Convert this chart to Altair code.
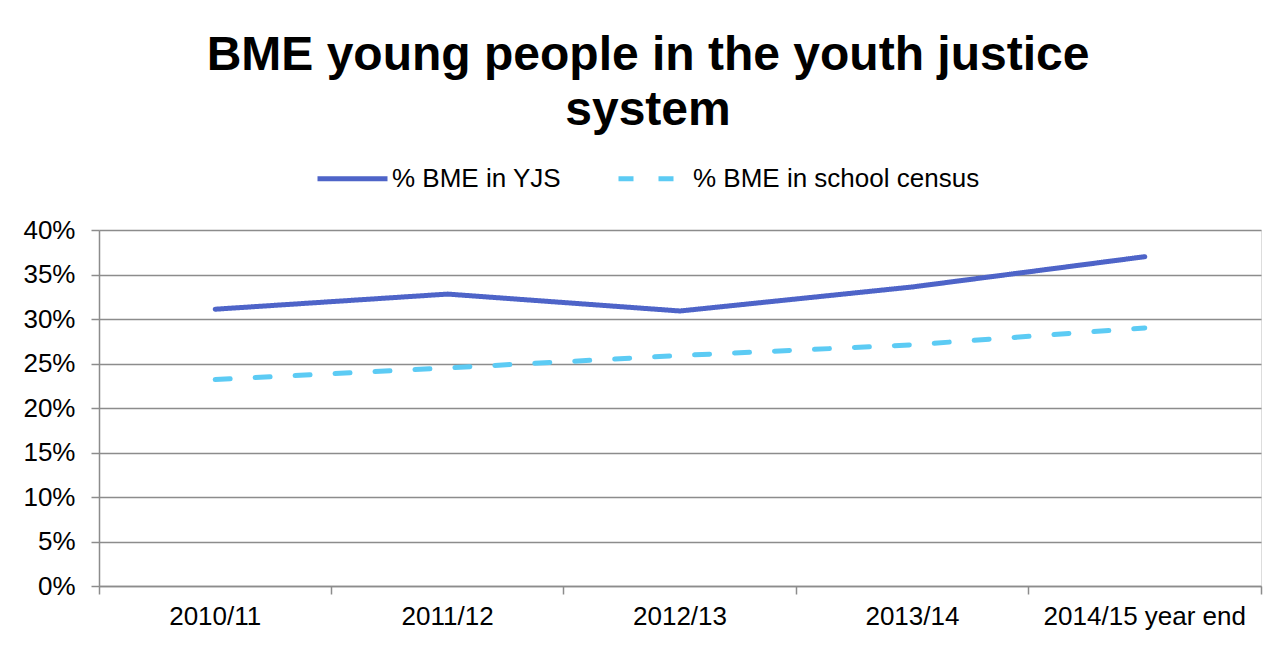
import altair as alt
import pandas as pd

years = ["2010/11", "2011/12", "2012/13", "2013/14", "2014/15 year end"]
yjs = [0.311, 0.328, 0.309, 0.336, 0.370]
school = [0.232, 0.245, 0.259, 0.271, 0.290]
series_names = ["% BME in YJS", "% BME in school census"]
y_ticks = [0, 0.05, 0.10, 0.15, 0.20, 0.25, 0.30, 0.35, 0.40]

rows = []
for yr, v in zip(years, yjs):
    rows.append({"year": yr, "value": v, "series": series_names[0]})
for yr, v in zip(years, school):
    rows.append({"year": yr, "value": v, "series": series_names[1]})
df = pd.DataFrame(rows)

FONT = "Liberation Sans"
GRID = "#8c8c8c"
LBL = 26

chart = alt.Chart(df).mark_line(strokeWidth=5, strokeCap="round").encode(
    x=alt.X("year:N", sort=years, title=None,
            scale=alt.Scale(type="band", paddingInner=0, paddingOuter=0),
            axis=alt.Axis(bandPosition=1, tickExtra=True, labelAngle=0,
                          labelFontSize=LBL, labelFont=FONT, labelColor="#000000",
                          labelLimit=400, labelPadding=9, tickSize=8, tickColor=GRID,
                          tickWidth=1.5, domainColor=GRID, domainWidth=1.5, grid=False)),
    y=alt.Y("value:Q", title=None,
            scale=alt.Scale(domain=[0, 0.4], nice=False),
            axis=alt.Axis(values=y_ticks, format=".0%", labelFontSize=LBL, labelFont=FONT,
                          labelColor="#000000", labelPadding=16, tickSize=8,
                          tickColor=GRID, tickWidth=1.5, domainColor=GRID, domainWidth=1.5,
                          grid=True, gridColor=GRID, gridWidth=1.5)),
    color=alt.Color("series:N", sort=series_names,
                    scale=alt.Scale(domain=series_names, range=["#4e64c8", "#5ccbf4"]),
                    legend=alt.Legend(title=None, orient="none", legendX=216, legendY=-89,
                                      direction="horizontal", columns=2, columnPadding=46,
                                      symbolType="stroke", symbolSize=4900,
                                      symbolStrokeWidth=5, labelFontSize=LBL, labelFont=FONT,
                                      labelColor="#000000", labelOffset=2, labelLimit=600,
                                      padding=0)),
    strokeDash=alt.StrokeDash("series:N", sort=series_names,
                              scale=alt.Scale(domain=series_names, range=[[1, 0], [15, 25]]),
                              legend=None),
).properties(
    width=1162,
    height=356,
    padding={"left": 91, "top": 222, "right": 19, "bottom": 50},
    autosize=alt.AutoSizeParams(type="none"),
    title=alt.TitleParams(
        text=["BME young people in the youth justice", "system"],
        fontSize=48, font=FONT, fontWeight="bold", color="#000000",
        anchor="middle", frame="group", dx=-32, lineHeight=55, offset=6,
    ),
).configure_view(stroke=None).configure(background="white")

chart.save("out.html", embed_options={"renderer": "svg", "actions": False})
